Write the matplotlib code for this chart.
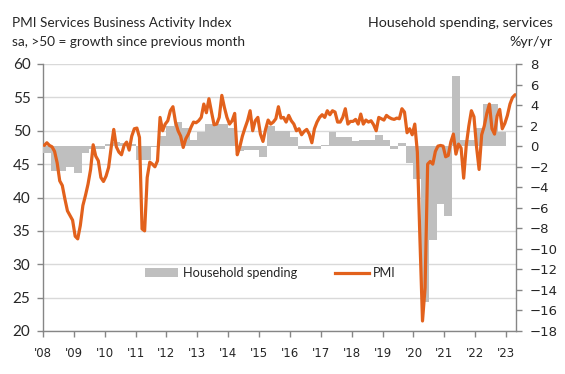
import matplotlib
matplotlib.use("Agg")
import matplotlib.pyplot as plt
from matplotlib.patches import Patch
from matplotlib.lines import Line2D

# ---------------- data ----------------
start_year = 2008
pmi_2008 = [47.8, 48.2, 47.8, 47.6, 46.9, 45.2, 42.5, 41.8, 39.8, 38.0, 37.3, 36.6]
pmi_2009 = [34.2, 33.8, 35.8, 38.8, 40.3, 42.0, 44.2, 47.9, 46.2, 45.5, 43.0, 42.4]
pmi_2010 = [43.2, 44.5, 47.5, 50.2, 47.6, 46.8, 46.4, 47.8, 48.3, 47.1, 49.2, 50.3]
pmi_2011 = [50.4, 49.0, 35.3, 35.0, 43.0, 45.3, 45.0, 44.6, 45.5, 52.0, 50.0, 51.0]
pmi_2012 = [51.5, 53.0, 53.6, 51.3, 50.0, 49.2, 47.5, 48.8, 49.5, 50.5, 51.3, 51.2]
pmi_2013 = [51.5, 52.0, 54.0, 52.7, 54.8, 52.8, 50.9, 51.0, 52.0, 55.3, 53.5, 52.0]
pmi_2014 = [51.0, 51.5, 52.6, 46.4, 47.6, 49.2, 50.4, 51.5, 53.0, 50.0, 51.5, 52.0]
pmi_2015 = [49.5, 48.4, 50.2, 51.6, 51.0, 51.3, 51.8, 53.6, 51.9, 52.0, 51.3, 52.3]
pmi_2016 = [51.5, 51.0, 50.0, 50.3, 49.4, 49.9, 50.2, 49.5, 48.2, 50.3, 51.3, 52.0]
pmi_2017 = [52.4, 52.0, 53.0, 52.4, 53.0, 52.8, 51.3, 51.3, 52.0, 53.3, 51.0, 51.4]
pmi_2018 = [51.4, 51.7, 51.0, 52.5, 51.0, 51.6, 51.3, 51.5, 50.9, 50.0, 52.0, 51.8]
pmi_2019 = [51.6, 52.3, 52.0, 51.8, 51.7, 51.9, 51.8, 53.3, 52.8, 49.7, 50.3, 49.4]
pmi_2020 = [51.0, 46.8, 33.8, 21.5, 26.5, 45.0, 45.4, 45.0, 46.9, 47.7, 47.8, 47.7]
pmi_2021 = [46.1, 46.3, 48.3, 49.5, 46.5, 48.0, 47.4, 42.9, 47.8, 50.7, 53.0, 52.1]
pmi_2022 = [47.6, 44.2, 49.4, 50.7, 52.6, 54.0, 50.3, 49.5, 52.2, 53.2, 50.3, 51.1]
pmi_2023 = [52.3, 54.0, 55.0, 55.4]

# household spending on services, %yr/yr, quarterly (Q1..Q4)
hh_2008 = [-0.7, -2.4, -2.4, -2.0]
hh_2009 = [-2.6, -0.7, -0.3, -0.3]
hh_2010 = [0.2, 0.4, 0.3, 0.2]
hh_2011 = [-1.3, -1.3, -0.1, 1.0]
hh_2012 = [2.0, 2.4, 1.8, 0.6]
hh_2013 = [1.4, 2.2, 2.2, 2.2]
hh_2014 = [1.8, -0.5, -0.4, -0.4]
hh_2015 = [-1.1, 2.0, 1.5, 1.5]
hh_2016 = [0.9, -0.3, -0.3, -0.3]
hh_2017 = [0.1, 1.4, 0.9, 0.9]
hh_2018 = [0.5, 0.6, 0.6, 1.1]
hh_2019 = [0.6, -0.3, 0.3, -1.6]
hh_2020 = [-3.2, -15.2, -9.1, -5.6]
hh_2021 = [-6.8, 6.8, 0.6, 0.6]
hh_2022 = [1.8, 4.1, 4.1, 1.4]

year_ticks = list(range(2008, 2024))
year_labels = ["'08", "'09", "'10", "'11", "'12", "'13", "'14", "'15", "'16",
               "'17", "'18", "'19", "'20", "'21", "'22", "'23"]

left_ticks = [20, 25, 30, 35, 40, 45, 50, 55, 60]
right_ticks = list(range(-18, 9, 2))

pmi = (pmi_2008 + pmi_2009 + pmi_2010 + pmi_2011 + pmi_2012 + pmi_2013 + pmi_2014 +
       pmi_2015 + pmi_2016 + pmi_2017 + pmi_2018 + pmi_2019 + pmi_2020 + pmi_2021 +
       pmi_2022 + pmi_2023)
hh = (hh_2008 + hh_2009 + hh_2010 + hh_2011 + hh_2012 + hh_2013 + hh_2014 + hh_2015 +
      hh_2016 + hh_2017 + hh_2018 + hh_2019 + hh_2020 + hh_2021 + hh_2022)

pmi_x = [start_year + (i + 0.5) / 12 for i in range(len(pmi))]
hh_x = [start_year + i / 4 for i in range(len(hh))]

# ---------------- style ----------------
ORANGE = "#E2611C"
GREY = "#BFBFBF"
AXC = "#868686"
GRID = "#D9D9D9"
FONT_MAIN = ["Lato", "DejaVu Sans"]
FONT_TICK = ["DejaVu Sans"]

W, H = 565, 374
fig = plt.figure(figsize=(W / 100, H / 100), dpi=100)
rect = [43 / W, 1 - 331 / H, 473 / W, 267 / H]

ax = fig.add_axes(rect)          # left scale, grid
ax2 = ax.twinx()                 # right scale, bars
ax3 = ax.twinx()                 # line on top

x0, x1 = 2008.0, 2023.32
for a in (ax, ax2, ax3):
    a.set_xlim(x0, x1)
    a.patch.set_visible(False)

ax.set_ylim(20, 60)
ax3.set_ylim(20, 60)
ax2.set_ylim(-18, 8)

ax.set_yticks(left_ticks)
ax.yaxis.grid(True, color=GRID, linewidth=1.0)
ax.set_axisbelow(True)
ax2.set_yticks(right_ticks)
ax3.set_yticks([])

ax2.bar(hh_x, hh, width=0.25, align="edge", color=GREY, linewidth=0, zorder=2)
ax3.plot(pmi_x, pmi, color=ORANGE, linewidth=2.3, solid_joinstyle="round",
         solid_capstyle="round", zorder=3)

# spines
for a in (ax, ax2, ax3):
    for s in a.spines.values():
        s.set_visible(False)
ax.spines["left"].set_visible(True)
ax.spines["bottom"].set_visible(True)
ax2.spines["right"].set_visible(True)
for s in (ax.spines["left"], ax.spines["bottom"], ax2.spines["right"]):
    s.set_color(AXC)
    s.set_linewidth(1.0)

ax.tick_params(axis="y", length=4, color=AXC, width=1.0, pad=5,
               labelsize=11, labelcolor="#262626")
for t in ax.get_yticklabels():
    t.set_family(FONT_MAIN)
ax2.tick_params(axis="y", length=4, color=AXC, width=1.0, pad=6,
                labelsize=9.5, labelcolor="#262626")
for t in ax2.get_yticklabels():
    t.set_family(FONT_TICK)

ax.set_xticks(year_ticks)
ax.set_xticklabels(year_labels)
ax.tick_params(axis="x", length=4, color=AXC, width=1.0, pad=7.5,
               labelsize=8.5, labelcolor="#262626")
for t in ax.get_xticklabels():
    t.set_family(FONT_TICK)
ax2.tick_params(axis="x", bottom=False, labelbottom=False)
ax3.tick_params(axis="x", bottom=False, labelbottom=False)

# legend
handles = [Patch(facecolor=GREY, edgecolor="none"),
           Line2D([0], [0], color=ORANGE, linewidth=2.3)]
leg = ax3.legend(handles, ["Household spending", "PMI"], ncol=2, frameon=False,
                 loc="center left", bbox_to_anchor=((145 - 43) / 473, (331 - 273) / 267),
                 borderpad=0, borderaxespad=0, handlelength=2.6, handleheight=0.6,
                 handletextpad=0.35, columnspacing=3.0,
                 prop={"family": FONT_MAIN, "size": 9.2})
for t in leg.get_texts():
    t.set_color("#262626")

# headers
fig.text(12 / W, 1 - 27 / H, "PMI Services Business Activity Index", fontsize=9.8,
         family=FONT_MAIN, color="#262626", va="baseline", ha="left")
fig.text(12 / W, 1 - 46 / H, "sa, >50 = growth since previous month", fontsize=9.8,
         family=FONT_MAIN, color="#262626", va="baseline", ha="left")
fig.text(553 / W, 1 - 27 / H, "Household spending, services", fontsize=10.3,
         family=FONT_MAIN, color="#262626", va="baseline", ha="right")
fig.text(553 / W, 1 - 46 / H, "%yr/yr", fontsize=10.3,
         family=FONT_MAIN, color="#262626", va="baseline", ha="right")

fig.savefig("out.png", dpi=100)
